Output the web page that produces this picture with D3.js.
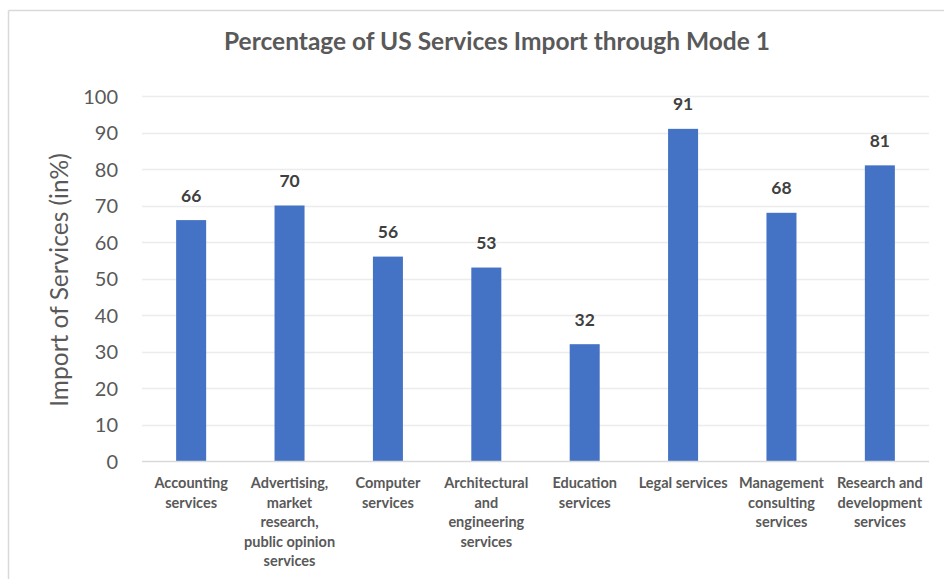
<!DOCTYPE html>
<html><head><meta charset="utf-8">
<script src="https://cdn.jsdelivr.net/npm/d3@7"></script>
<style>body{margin:0;background:#fff}svg{display:block}</style>
</head><body><svg id="c" width="944" height="579"></svg>
<script>
const categories = [
  ["Accounting", "services"],
  ["Advertising,", "market", "research,", "public opinion", "services"],
  ["Computer", "services"],
  ["Architectural", "and", "engineering", "services"],
  ["Education", "services"],
  ["Legal services"],
  ["Management", "consulting", "services"],
  ["Research and", "development", "services"]
];
const values = [66, 70, 56, 53, 32, 91, 68, 81];
const yTicks = [0, 10, 20, 30, 40, 50, 60, 70, 80, 90, 100];
const title = "Percentage of US Services Import through Mode 1";
const yTitle = "Import of Services (in%)";

const svg = d3.select("#c");
const font = "Lato, 'Open Sans', sans-serif";
const pLeft = 142, pRight = 929, pTop = 96, pBottom = 461;

// chart border (top & left visible)
svg.append("line").attr("x1", 8.5).attr("x2", 944).attr("y1", 10.5).attr("y2", 10.5).attr("stroke", "#d9d9d9").attr("stroke-width", 1.5);
svg.append("line").attr("x1", 8.5).attr("x2", 8.5).attr("y1", 10.5).attr("y2", 579).attr("stroke", "#d9d9d9").attr("stroke-width", 1.5);

const x = d3.scaleBand().domain(d3.range(values.length)).range([pLeft, pRight]).paddingInner(0.695).paddingOuter(0.347);
const y = d3.scaleLinear().domain([0, 100]).range([pBottom, pTop]);

// grid
svg.append("g").selectAll("line").data(yTicks.slice(1)).join("line")
  .attr("x1", pLeft).attr("x2", pRight).attr("y1", d => Math.round(y(d)) + 0.5).attr("y2", d => Math.round(y(d)) + 0.5)
  .attr("stroke", "#ececec").attr("stroke-width", 1.3);

// y axis labels
const yAxis = d3.axisLeft(y).tickValues(yTicks).tickSize(0).tickPadding(0);
const ga = svg.append("g").attr("transform", `translate(118,0)`).call(yAxis);
ga.select(".domain").remove();
ga.selectAll("text").attr("font-family", font).attr("font-size", 20).attr("fill", "#595959").attr("dy", "0.35em");

// bars
svg.append("g").selectAll("rect").data(values).join("rect")
  .attr("x", (d, i) => x(i)).attr("width", x.bandwidth())
  .attr("y", d => y(d)).attr("height", d => y(0) - y(d))
  .attr("fill", "#4472c4");

// baseline
svg.append("line").attr("x1", pLeft).attr("x2", pRight).attr("y1", pBottom + 0.5).attr("y2", pBottom + 0.5).attr("stroke", "#d9d9d9").attr("stroke-width", 1.3);

// value labels
svg.append("g").selectAll("text").data(values).join("text")
  .attr("x", (d, i) => x(i) + x.bandwidth() / 2).attr("y", d => y(d) - 18.5)
  .attr("text-anchor", "middle").attr("font-family", font).attr("font-weight", "bold")
  .attr("font-size", 17.5).attr("fill", "#404040").text(d => d);

// category labels
const cg = svg.append("g").selectAll("text").data(categories).join("text")
  .attr("text-anchor", "middle").attr("font-family", font).attr("font-weight", "bold")
  .attr("font-size", 14.5).attr("fill", "#595959");
cg.each(function(lines, i) {
  d3.select(this).selectAll("tspan").data(lines).join("tspan")
    .attr("x", x(i) + x.bandwidth() / 2).attr("y", (d, j) => 488 + j * 19.5).text(d => d);
});

// title
svg.append("text").attr("x", 497).attr("y", 50).attr("text-anchor", "middle")
  .attr("font-family", font).attr("font-weight", "bold").attr("font-size", 24.5).attr("fill", "#595959").text(title);

// y title
svg.append("text").attr("transform", "translate(68,280) rotate(-90)").attr("text-anchor", "middle")
  .attr("font-family", font).attr("font-size", 24.5).attr("fill", "#595959").text(yTitle);
</script></body></html>
